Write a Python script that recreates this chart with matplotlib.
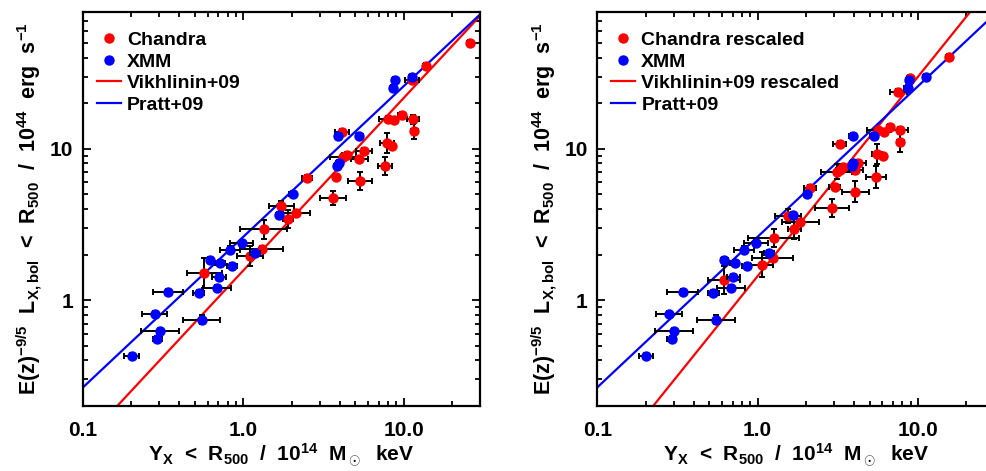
import numpy as np
import matplotlib
matplotlib.use("Agg")
import matplotlib.pyplot as plt
from matplotlib.ticker import FixedLocator, FixedFormatter, NullFormatter, LogLocator

plt.rcParams["font.family"] = ["Liberation Sans", "DejaVu Sans"]
plt.rcParams["font.weight"] = "bold"
plt.rcParams["axes.labelweight"] = "bold"
plt.rcParams["mathtext.fontset"] = "custom"
plt.rcParams["mathtext.rm"] = "Liberation Sans:bold"
plt.rcParams["mathtext.it"] = "Liberation Sans:bold"
plt.rcParams["mathtext.bf"] = "Liberation Sans:bold"
plt.rcParams["mathtext.default"] = "bf"

# XMM clusters (same in both panels): Y_X, L_X, x error (dex), y error (dex)
xmm_y = [0.201, 0.302, 0.291, 0.280, 0.340, 0.528, 0.550, 0.682, 0.705, 0.620, 0.719, 0.853,
         0.826, 0.977, 1.18, 1.67, 2.03, 3.87, 3.95, 3.92, 5.30, 8.63, 8.83, 11.3]
xmm_l = [0.425, 0.628, 0.551, 0.809, 1.14, 1.11, 0.742, 1.20, 1.43, 1.85, 1.76, 1.68,
         2.16, 2.39, 2.04, 3.64, 5.05, 7.65, 8.0, 12.2, 12.1, 25.1, 28.5, 29.7]
xmm_dx = [0.046, 0.12, 0.03, 0.08, 0.094, 0.035, 0.116, 0.088, 0.042, 0.02, 0.03, 0.03,
          0.062, 0.073, 0.03, 0.02, 0.02, 0.02, 0.02, 0.02, 0.02, 0.02, 0.02, 0.02]
xmm_dy = [0.02, 0.02, 0.02, 0.02, 0.02, 0.02, 0.03, 0.02, 0.02, 0.02, 0.02, 0.02,
          0.02, 0.02, 0.02, 0.02, 0.02, 0.02, 0.02, 0.02, 0.02, 0.02, 0.02, 0.02]

# Chandra clusters, original calibration (left panel)
cha_y = [0.571, 1.10, 1.30, 1.34, 1.73, 1.91, 2.13, 2.50, 3.64, 3.78, 4.14, 4.20, 4.41, 5.29,
         5.35, 5.66, 7.65, 7.84, 8.5, 8.02, 8.75, 9.72, 11.5, 11.7, 11.3, 13.8, 25.9]
cha_l = [1.52, 1.95, 2.17, 2.93, 4.17, 3.42, 3.78, 6.41, 4.75, 6.47, 12.9, 8.85, 9.08, 8.51,
         6.09, 9.66, 7.65, 10.96, 10.36, 15.7, 15.4, 16.8, 15.7, 13.1, 28.4, 35.4, 50.0]
cha_dx = [0.108, 0.083, 0.133, 0.148, 0.077, 0.03, 0.089, 0.03, 0.083, 0.02, 0.042, 0.083, 0.03,
          0.052, 0.073, 0.052, 0.042, 0.044, 0.02, 0.056, 0.02, 0.02, 0.037, 0.02, 0.046, 0.02, 0.02]
cha_dy = [0.099, 0.066, 0.02, 0.06, 0.033, 0.06, 0.02, 0.02, 0.046, 0.02, 0.02, 0.02, 0.02,
          0.02, 0.06, 0.02, 0.06, 0.066, 0.02, 0.02, 0.02, 0.02, 0.03, 0.055, 0.02, 0.02, 0.02]

# Chandra clusters, rescaled (right panel)
chr_y = [0.617, 1.06, 1.24, 1.26, 1.55, 1.69, 1.85, 2.12, 2.92, 3.02, 3.26, 3.11, 3.29, 3.42,
         4.04, 4.08, 4.25, 5.45, 5.58, 6.02, 5.66, 6.17, 6.69, 7.72, 7.79, 7.57, 8.91, 15.6]
chr_l = [1.36, 1.71, 1.91, 2.56, 3.60, 2.97, 3.30, 5.53, 4.08, 5.62, 10.8, 7.05, 7.2, 7.6,
         7.2, 5.2, 8.0, 6.5, 9.27, 8.9, 13.2, 12.9, 13.9, 13.2, 11.1, 23.8, 29.4, 40.4]
chr_dx = [0.10, 0.073, 0.13, 0.16, 0.083, 0.04, 0.114, 0.037, 0.108, 0.035, 0.04, 0.094, 0.03, 0.03,
          0.052, 0.087, 0.046, 0.062, 0.03, 0.02, 0.07, 0.02, 0.02, 0.052, 0.02, 0.052, 0.02, 0.02]
chr_dy = [0.093, 0.082, 0.02, 0.06, 0.044, 0.066, 0.02, 0.02, 0.06, 0.02, 0.02, 0.05, 0.02, 0.02,
          0.02, 0.07, 0.02, 0.07, 0.066, 0.02, 0.02, 0.02, 0.02, 0.02, 0.066, 0.02, 0.02, 0.02]

# power-law relations: L = norm * Y^slope
vikh = (1.57, 1.138)
vikh_rescaled = (1.44, 1.316)
pratt = (2.62, 0.994)

xlabel = r"Y$_{X}$  <  R$_{500}$  /  10$^{14}$  M$_\odot$  keV"
ylabel = r"E(z)$^{-9/5}$  L$_{X,bol}$  <  R$_{500}$  /  10$^{44}$  erg  s$^{-1}$"

MS = 7.5


def dex_err(v, d):
    v = np.asarray(v)
    d = np.asarray(d)
    return np.vstack([v * (1 - 10 ** -d), v * (10 ** d - 1)])


def draw_panel(ax, cy, cl, cdx, cdy, rel_red, labels):
    xx = np.logspace(-1, np.log10(30), 200)
    ax.plot(xx, rel_red[0] * xx ** rel_red[1], color="red", lw=1.6, zorder=2)
    ax.plot(xx, pratt[0] * xx ** pratt[1], color="blue", lw=1.6, zorder=2)

    ax.errorbar(cy, cl, xerr=dex_err(cy, cdx), yerr=dex_err(cl, cdy), fmt="none",
                ecolor="black", elinewidth=1.4, capsize=2.5, capthick=1.4, zorder=3)
    ax.plot(cy, cl, "o", color="red", ms=MS, mec="none", zorder=4)
    ax.errorbar(xmm_y, xmm_l, xerr=dex_err(xmm_y, xmm_dx), yerr=dex_err(xmm_l, xmm_dy), fmt="none",
                ecolor="black", elinewidth=1.4, capsize=2.5, capthick=1.4, zorder=5)
    ax.plot(xmm_y, xmm_l, "o", color="blue", ms=MS, mec="none", zorder=6)

    ax.set_xscale("log")
    ax.set_yscale("log")
    ax.set_xlim(0.1, 30)
    ax.set_ylim(0.2, 80)

    ax.xaxis.set_major_locator(FixedLocator([0.1, 1.0, 10.0]))
    ax.xaxis.set_major_formatter(FixedFormatter(["0.1", "1.0", "10.0"]))
    ax.yaxis.set_major_locator(FixedLocator([1, 10]))
    ax.yaxis.set_major_formatter(FixedFormatter(["1", "10"]))
    ax.xaxis.set_minor_locator(LogLocator(subs=np.arange(2, 10)))
    ax.yaxis.set_minor_locator(LogLocator(subs=np.arange(2, 10)))
    ax.xaxis.set_minor_formatter(NullFormatter())
    ax.yaxis.set_minor_formatter(NullFormatter())
    ax.tick_params(which="both", direction="in", top=True, right=True, width=1.3)
    ax.tick_params(which="major", length=6, labelsize=15)
    ax.tick_params(which="minor", length=3.5)
    ax.tick_params(axis="x", pad=11)
    ax.tick_params(axis="y", pad=7)
    for s in ax.spines.values():
        s.set_linewidth(1.6)

    ax.set_xlabel(xlabel, fontsize=15, labelpad=1)
    ax.set_ylabel(ylabel, fontsize=15.5, labelpad=4)

    handles = [
        plt.Line2D([], [], ls="none", marker="o", color="red", ms=MS, mec="none"),
        plt.Line2D([], [], ls="none", marker="o", color="blue", ms=MS, mec="none"),
        plt.Line2D([], [], color="red", lw=1.6),
        plt.Line2D([], [], color="blue", lw=1.6),
    ]
    ax.legend(handles, labels, loc="upper left", bbox_to_anchor=(0.025, 0.96), frameon=False,
              fontsize=14, handlelength=1.25, handletextpad=0.3, labelspacing=0.2,
              borderpad=0.2, borderaxespad=0)


fig = plt.figure(figsize=(9.87, 4.71), dpi=100)
ax1 = fig.add_axes([0.0841, 0.138, 0.4022, 0.8365])
ax2 = fig.add_axes([0.6052, 0.138, 0.4022, 0.8365])

draw_panel(ax1, cha_y, cha_l, cha_dx, cha_dy, vikh,
           ["Chandra", "XMM", "Vikhlinin+09", "Pratt+09"])
draw_panel(ax2, chr_y, chr_l, chr_dx, chr_dy, vikh_rescaled,
           ["Chandra rescaled", "XMM", "Vikhlinin+09 rescaled", "Pratt+09"])

fig.savefig("out.png", dpi=100)
